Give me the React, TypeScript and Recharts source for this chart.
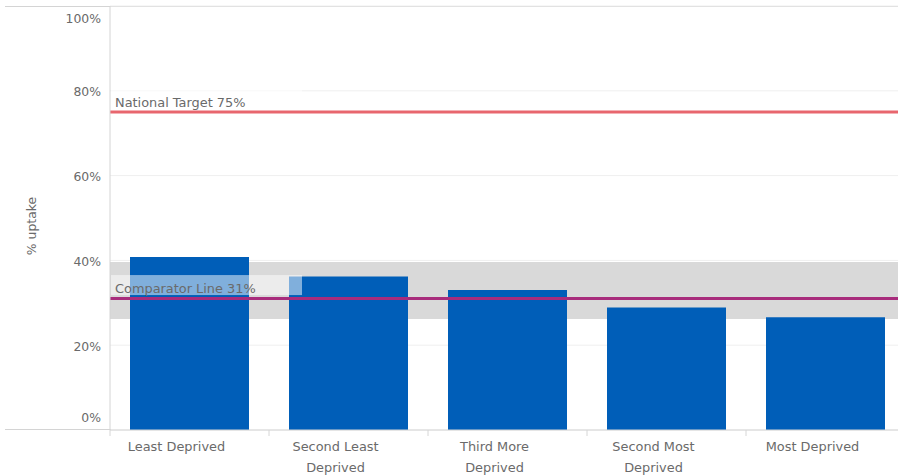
import React from 'react';
import { BarChart, Bar, XAxis, YAxis, CartesianGrid, ReferenceLine, ReferenceArea, Label } from 'recharts';

const categories = ['Least Deprived', 'Second Least Deprived', 'Third More Deprived', 'Second Most Deprived', 'Most Deprived'];
const categoryLines = [['Least Deprived'], ['Second Least', 'Deprived'], ['Third More', 'Deprived'], ['Second Most', 'Deprived'], ['Most Deprived']];
const uptake = [40.8, 36.2, 33.0, 28.9, 26.6];
const yTicks = [0, 20, 40, 60, 80, 100];
const nationalTarget = 75;
const comparator = 31;
const comparatorLow = 26.2;
const comparatorHigh = 39.6;

const data = categories.map((c, i) => ({ name: c, uptake: uptake[i] }));

const FONT = '"DejaVu Sans", "Open Sans", sans-serif';
const TEXT = '#6a6a6a';
const FS = 12.9;
const FS_Y = 12.4;

const XTick = (props: any) => {
  const { x, y, payload, index } = props;
  const lines = categoryLines[index] ?? [payload.value];
  const off = payload?.offset ?? 0;
  const cx = x - 13;
  return (
    <g>
      <line x1={x - off} x2={x - off} y1={y} y2={y + 6} stroke="#d6d6d6" />
      <text x={cx} y={y} textAnchor="middle" fill={TEXT} fontSize={FS} fontFamily={FONT}>
        {lines.map((l: string, i: number) => (
          <tspan key={i} x={cx} dy={21}>{l}</tspan>
        ))}
      </text>
    </g>
  );
};

const YTick = (props: any) => {
  const { x, y, payload } = props;
  const v = payload.value;
  const shift = v === 100 ? 13 : v === 0 ? -12 : 1;
  return (
    <text x={x} y={y + shift} dy="0.35em" textAnchor="end" fill={TEXT} fontSize={FS_Y} fontFamily={FONT}>
      {v}%
    </text>
  );
};

const lineLabel = (text: string, boxed: boolean) => (props: any) => {
  const vb = props.viewBox || {};
  const x = vb.x ?? 0;
  const y = vb.y ?? 0;
  return (
    <g>
      {boxed && <rect x={x + 1} y={y - 23.5} width={191} height={20} fill="#ffffff" fillOpacity={0.5} />}
      <text x={x + 5} y={y - 10} dy="0.35em" fill={TEXT} fontSize={FS} fontFamily={FONT}>
        {text}
      </text>
    </g>
  );
};

export default function App() {
  return (
    <div style={{ position: 'absolute', left: 0, top: 0, width: 898, height: 476, overflow: 'hidden', background: '#fff' }}>
      <div style={{ position: 'absolute', left: 5, top: 6, width: 893, height: 1, background: '#d4d4d4' }} />
      <div style={{ position: 'absolute', left: 5, top: 429, width: 106, height: 1, background: '#d4d4d4' }} />
      <BarChart
        width={910}
        height={476}
        data={data}
        margin={{ top: 6, right: 5, bottom: 0, left: 0 }}
        barSize={119}
      >
        <CartesianGrid horizontal vertical={false} stroke="#efefef" />
        <ReferenceArea y1={comparatorLow} y2={comparatorHigh} fill="#d9d9d9" fillOpacity={1} stroke="none" ifOverflow="visible" />
        <XAxis
          dataKey="name"
          height={46}
          tickSize={0}
          tickMargin={0}
          tickLine={false}
          axisLine={{ stroke: '#d4d4d4' }}
          tick={<XTick />}
          interval={0}
        />
        <YAxis
          width={110}
          domain={[0, 100]}
          ticks={yTicks}
          tickSize={0}
          tickMargin={9}
          tickLine={false}
          axisLine={{ stroke: '#d4d4d4' }}
          tick={<YTick />}
          interval={0}
        >
          <Label
            content={() => (
              <text x={36} y={226} transform="rotate(-90 36 226)" textAnchor="middle" fill={TEXT} fontSize={FS_Y} fontFamily={FONT}>
                % uptake
              </text>
            )}
          />
        </YAxis>
        <Bar dataKey="uptake" fill="#005EB8" isAnimationActive={false} />
        <ReferenceLine y={comparator} stroke="#A82C7C" strokeWidth={3} label={lineLabel('Comparator Line 31%', true)} />
        <ReferenceLine y={nationalTarget} stroke="#E8666E" strokeWidth={3} label={lineLabel('National Target 75%', true)} />
      </BarChart>
    </div>
  );
}
